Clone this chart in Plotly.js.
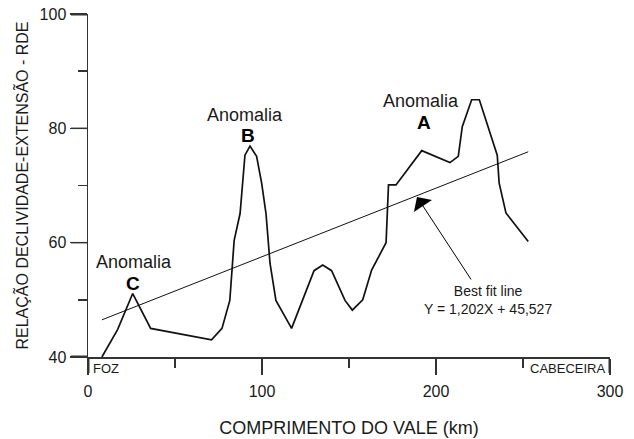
<!DOCTYPE html>
<html>
<head>
<meta charset="utf-8">
<script src="https://cdn.plot.ly/plotly-3.0.1.min.js"></script>
<style>html,body{margin:0;padding:0;background:#fff;}#chart{width:634px;height:439px;}</style>
</head>
<body>
<div id="chart"></div>
<script>
// Longitudinal RDE profile (distance along valley in km, RDE value)
var profileX = [8, 17, 25.7, 36, 71, 77, 81.5, 84, 87.4, 90.2, 93.1, 96.9, 99.8, 102.3, 104.6, 108, 117, 129.9, 134.9, 140, 147.7, 151.9, 157.9, 163, 171.3, 172.7, 177, 191.8, 208, 212.8, 215.1, 220.5, 224.9, 235.2, 236.3, 240.2, 253];
var profileY = [40, 44.8, 51.1, 45, 43, 45, 49.9, 60.4, 65.1, 75.3, 76.9, 75.1, 70.4, 65.1, 56.4, 49.9, 45, 55.1, 56.1, 55.1, 49.9, 48.2, 50, 55.2, 60, 70.1, 70.1, 76.1, 74, 75.1, 80.3, 85, 85, 75.3, 70.4, 65.2, 60.2];
// Best fit line end points
var fitX = [8, 253];
var fitY = [46.5, 75.9];
// Tick values
var xTicks = [0, 100, 200, 300];
var xMinorTicks = [50, 150, 250];
var yTicks = [40, 60, 80, 100];
var yMinorTicks = [50, 70, 90];
// Annotation labels
var anomalyLabels = ["B", "A", "C"];
var anomalyX = [92, 193, 25.9];
var anomalyY = [78.8, 81.1, 52.9];
var anomalyTextX = [90.5, 191.5, 26.5];
var anomalyTextY = [82.4, 84.7, 56.6];
var fitLabel = "Best fit line<br>Y = 1,202X + 45,527";

var font = "Liberation Sans, Arial, sans-serif";
var ink = "#1a1a1a";
var axisInk = "#333";

var traces = [
  {x: profileX, y: profileY, type: "scatter", mode: "lines",
   line: {color: "#111", width: 1.7}, hoverinfo: "skip"},
  {x: fitX, y: fitY, type: "scatter", mode: "lines",
   line: {color: "#111", width: 1}, hoverinfo: "skip"},
  {x: [0], y: [40], xaxis: "x2", yaxis: "y2", type: "scatter",
   mode: "markers", marker: {opacity: 0}, hoverinfo: "skip"}
];

var annotations = [];
for (var i = 0; i < anomalyLabels.length; i++) {
  annotations.push({x: anomalyX[i], y: anomalyY[i], xref: "x", yref: "y",
    text: "<b>" + anomalyLabels[i] + "</b>", showarrow: false,
    font: {family: font, size: 19, color: "#000"}});
  annotations.push({x: anomalyTextX[i], y: anomalyTextY[i], xref: "x", yref: "y",
    text: "Anomalia", showarrow: false,
    font: {family: font, size: 18, color: ink}});
}
annotations.push({x: 230, y: 50, xref: "x", yref: "y", text: fitLabel,
  showarrow: false, align: "center", font: {family: font, size: 14, color: ink}});
annotations.push({x: 189.1, y: 68.0, xref: "x", yref: "y", text: "",
  showarrow: true, ax: 55, ay: 84, arrowhead: 1, arrowsize: 3.6, arrowwidth: 1,
  arrowcolor: "#000", standoff: 0});
annotations.push({x: 1.5, y: 40, xref: "x", yref: "y", xanchor: "left", yanchor: "top",
  yshift: -2, text: "FOZ", showarrow: false,
  font: {family: "Liberation Sans Narrow, Arial Narrow, " + font, size: 13, color: ink}});
annotations.push({x: 298.5, y: 40, xref: "x", yref: "y", xanchor: "right", yanchor: "top",
  yshift: -2, text: "CABECEIRA", showarrow: false,
  font: {family: "Liberation Sans Narrow, Arial Narrow, " + font, size: 13, color: ink}});

// Major tick marks (positioned by the axes' own scales, length in pixels)
var shapes = [];
xTicks.forEach(function (v) {
  var edge = (v === xTicks[0] || v === xTicks[xTicks.length - 1]);
  shapes.push({type: "line", xref: "x", yref: "y domain", x0: v, x1: v,
    ysizemode: "pixel", yanchor: 0, y0: 0, y1: -16,
    line: {color: axisInk, width: edge ? 3 : 1.5}, layer: "above"});
});
yTicks.forEach(function (v) {
  var edge = (v === yTicks[0] || v === yTicks[yTicks.length - 1]);
  shapes.push({type: "line", xref: "x domain", yref: "y", y0: v, y1: v,
    xsizemode: "pixel", xanchor: 0, x0: 0, x1: -17,
    line: {color: axisInk, width: edge ? 3 : 1.5}, layer: "above"});
});

var baseAxis = {
  showgrid: false, zeroline: false, showline: true, linecolor: axisInk, linewidth: 1.5,
  ticks: "outside", tickwidth: 1.5, tickcolor: axisInk, tickmode: "array"
};

var layout = {
  width: 634, height: 439,
  margin: {l: 88, r: 24, t: 14, b: 82},
  paper_bgcolor: "#fff", plot_bgcolor: "#fff",
  showlegend: false,
  font: {family: font, color: ink},
  xaxis: Object.assign({}, baseAxis, {
    range: [0, 300], tickvals: xTicks, ticktext: xTicks.map(String), ticklen: 16,
    tickfont: {family: font, size: 16, color: ink}, ticklabelstandoff: 3,
    title: {text: "COMPRIMENTO DO VALE (km)", font: {family: font, size: 18, color: ink}, standoff: 22}
  }),
  yaxis: Object.assign({}, baseAxis, {
    range: [40, 100], tickvals: yTicks, ticktext: yTicks.map(String), ticklen: 17,
    tickfont: {family: font, size: 16, color: ink},
    title: {text: "RELAÇÃO DECLIVIDADE-EXTENSÃO - RDE", font: {family: font, size: 16, color: ink}, standoff: 7}
  }),
  xaxis2: Object.assign({}, baseAxis, {overlaying: "x", anchor: "y2", side: "bottom",
    range: [0, 300], tickvals: xMinorTicks, ticklen: 9, showticklabels: false}),
  yaxis2: Object.assign({}, baseAxis, {overlaying: "y", anchor: "x2", side: "left",
    range: [40, 100], tickvals: yMinorTicks, ticklen: 9, showticklabels: false}),
  shapes: shapes,
  annotations: annotations
};

Plotly.newPlot("chart", traces, layout, {staticPlot: true, displayModeBar: false});
</script>
</body>
</html>
